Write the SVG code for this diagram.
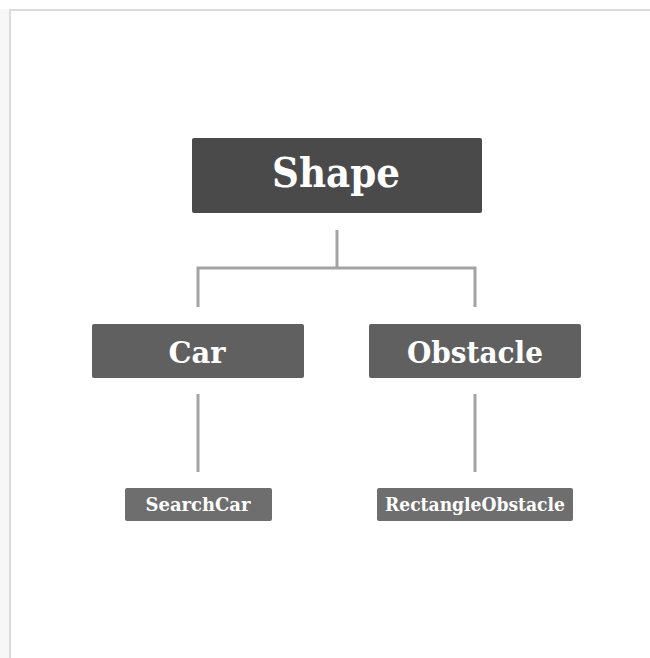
<svg xmlns="http://www.w3.org/2000/svg" width="650" height="658" viewBox="0 0 650 658">
  <style>
    .box { stroke: none; }
    .lbl { font-family: "DejaVu Serif", "Liberation Serif", serif; font-weight: bold; fill: #ffffff; text-anchor: middle; }
    .link { stroke: #a3a3a3; stroke-width: 3; fill: none; }
  </style>
  <rect width="650" height="658" fill="#ffffff"/>
  <!-- page frame -->
  <rect x="0" y="9" width="9" height="649" fill="#f7f7f7"/>
  <path d="M10 658 V10 H650" fill="none" stroke="#dcdcdc" stroke-width="2"/>

  <g id="connectors">
    <path class="link" d="M337 230 V268 M198 307 V268 H475 V307"/>
    <path class="link" d="M198 394 V472"/>
    <path class="link" d="M475 394 V472"/>
  </g>

  <g id="shape">
    <rect class="box" x="192" y="138" width="290" height="75" rx="2" fill="#4a4a4a"/>
    <text class="lbl" x="336" y="187" font-size="41" textLength="128" lengthAdjust="spacingAndGlyphs">Shape</text>
  </g>
  <g id="car">
    <rect class="box" x="92" y="324" width="212" height="54" rx="2" fill="#606060"/>
    <text class="lbl" x="197" y="363" font-size="30" textLength="57" lengthAdjust="spacingAndGlyphs">Car</text>
  </g>
  <g id="obstacle">
    <rect class="box" x="369" y="324" width="212" height="54" rx="2" fill="#606060"/>
    <text class="lbl" x="475" y="363" font-size="30" textLength="136" lengthAdjust="spacingAndGlyphs">Obstacle</text>
  </g>
  <g id="searchcar">
    <rect class="box" x="125" y="488" width="147" height="33" rx="2" fill="#6e6e6e"/>
    <text class="lbl" x="198" y="511" font-size="18" textLength="105" lengthAdjust="spacingAndGlyphs">SearchCar</text>
  </g>
  <g id="rectangleobstacle">
    <rect class="box" x="377" y="488" width="196" height="33" rx="2" fill="#6e6e6e"/>
    <text class="lbl" x="475" y="511" font-size="18" textLength="180" lengthAdjust="spacingAndGlyphs">RectangleObstacle</text>
  </g>
</svg>
